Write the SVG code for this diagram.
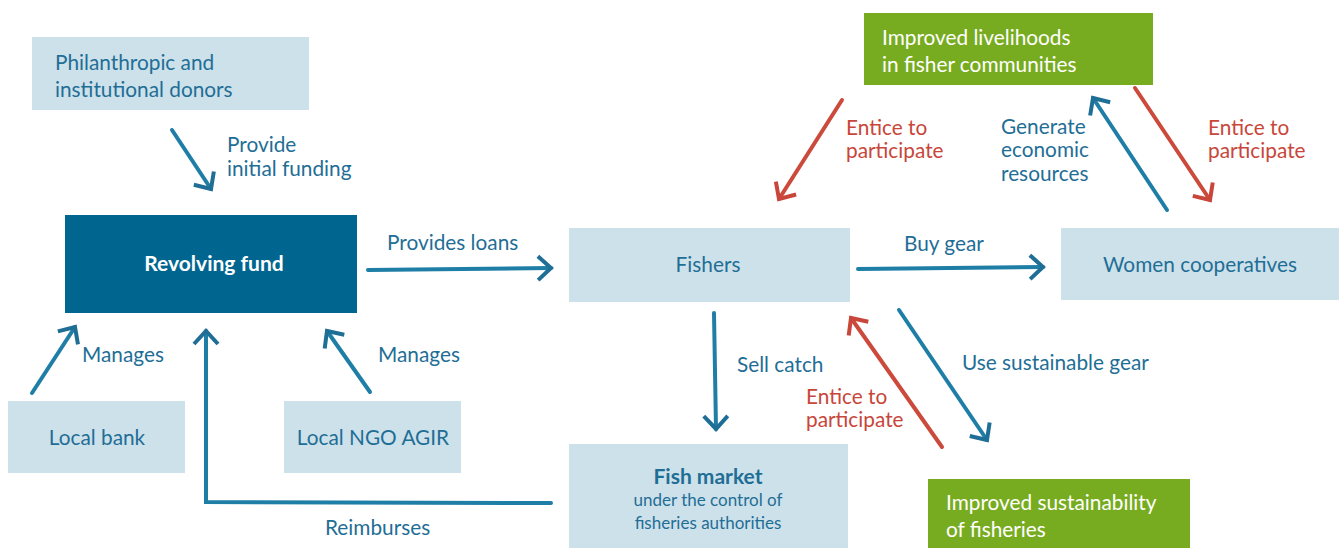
<svg xmlns="http://www.w3.org/2000/svg" width="1342" height="548" viewBox="0 0 1342 548">
<style>
text{font-family:Lato,"Open Sans","Liberation Sans",sans-serif;font-size:20.8px;fill:#1f6e96}
.light{fill:#cde1ea}
.dark{fill:#006690}
.green{fill:#78ac20}
.w{fill:#ffffff}
.r{fill:#c8463a}
.b{stroke:#1f7ea6;stroke-width:4;fill:none;stroke-linecap:round;stroke-linejoin:miter}
.rd{stroke:#cc4a3c;stroke-width:4;fill:none;stroke-linecap:round}
.sm{font-size:17px}
.bd{font-weight:bold;font-size:21px}
.c{text-anchor:middle}
</style>
<defs>
<marker id="hb" markerUnits="userSpaceOnUse" markerWidth="30" markerHeight="30" viewBox="-16 -15 20 30" refX="0" refY="0" orient="auto">
<path d="M-13,-12 L0,0 L-13,12" fill="none" stroke="#1f6e96" stroke-width="4"/>
</marker>
<marker id="hr" markerUnits="userSpaceOnUse" markerWidth="30" markerHeight="30" viewBox="-16 -15 20 30" refX="0" refY="0" orient="auto">
<path d="M-13,-12 L0,0 L-13,12" fill="none" stroke="#c8463a" stroke-width="4"/>
</marker>
</defs>

<g id="donors"><rect class="light" x="32" y="37" width="277" height="73"/><text x="55" y="70">Philanthropic and</text><text x="55" y="97">institutional donors</text></g>
<g id="fund"><rect class="dark" x="65" y="215" width="292" height="98"/><text class="w c bd" x="214" y="271">Revolving fund</text></g>
<g id="fishers"><rect class="light" x="569" y="228" width="281" height="74"/><text class="c" x="708" y="272">Fishers</text></g>
<g id="women"><rect class="light" x="1061" y="228" width="278" height="72"/><text class="c" x="1200" y="272">Women cooperatives</text></g>
<g id="livelihoods"><rect class="green" x="864" y="13" width="289" height="72"/><text class="w" x="882" y="45">Improved livelihoods</text><text class="w" x="882" y="72">in fisher communities</text></g>
<g id="bank"><rect class="light" x="8" y="401" width="177" height="72"/><text class="c" x="97" y="445">Local bank</text></g>
<g id="ngo"><rect class="light" x="284" y="401" width="177" height="72"/><text class="c" x="373" y="445">Local NGO AGIR</text></g>
<g id="market"><rect class="light" x="569" y="444" width="279" height="104"/><text class="c bd" x="708" y="484">Fish market</text><text class="c sm" x="708" y="506">under the control of</text><text class="c sm" x="708" y="529">fisheries authorities</text></g>
<g id="sustainability"><rect class="green" x="928" y="479" width="262" height="69"/><text class="w" x="946" y="510">Improved sustainability</text><text class="w" x="946" y="537">of fisheries</text></g>

<g id="connectors">
<path class="b" d="M172,130 L211,189" marker-end="url(#hb)"/>
<path class="b" d="M368,270 L551,268" marker-end="url(#hb)"/>
<path class="b" d="M858,269 L1043,267" marker-end="url(#hb)"/>
<path class="rd" d="M842,100 L779,199" marker-end="url(#hr)"/>
<path class="b" d="M1167,210 L1093,98" marker-end="url(#hb)"/>
<path class="rd" d="M1135,88 L1210,200" marker-end="url(#hr)"/>
<path class="b" d="M32,393 L75,327" marker-end="url(#hb)"/>
<path class="b" d="M370,392 L327,331" marker-end="url(#hb)"/>
<path class="b" d="M551,503 L206,502 L206,331" marker-end="url(#hb)"/>
<path class="b" d="M714,313 L716,429" marker-end="url(#hb)"/>
<path class="rd" d="M942,447 L851,318" marker-end="url(#hr)"/>
<path class="b" d="M899,310 L987,440" marker-end="url(#hb)"/>
<text x="227" y="152">Provide</text><text x="227" y="176">initial funding</text>
<text x="387" y="250">Provides loans</text>
<text x="904" y="251">Buy gear</text>
<text class="r" x="846" y="135">Entice to</text><text class="r" x="846" y="158">participate</text>
<text x="1001" y="134">Generate</text><text x="1001" y="157">economic</text><text x="1001" y="181">resources</text>
<text class="r" x="1208" y="135">Entice to</text><text class="r" x="1208" y="158">participate</text>
<text x="82" y="362">Manages</text>
<text x="378" y="362">Manages</text>
<text x="325" y="535">Reimburses</text>
<text x="737" y="372">Sell catch</text>
<text class="r" x="806" y="404">Entice to</text><text class="r" x="806" y="427">participate</text>
<text x="962" y="370">Use sustainable gear</text>
</g>
</svg>
